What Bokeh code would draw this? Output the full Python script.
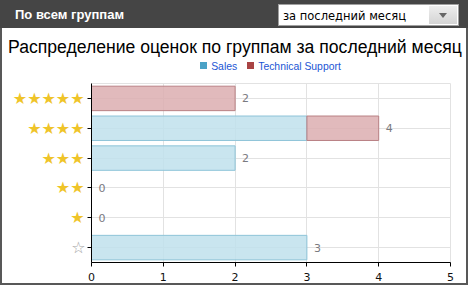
from bokeh.plotting import figure
from bokeh.layouts import column
from bokeh.models import (ColumnDataSource, Range1d, CDSView, BooleanFilter, FixedTicker,
                          Div, LinearAxis)
from bokeh.core.properties import value
from bokeh.embed import file_html
from bokeh.resources import INLINE

# ---- data ----
ratings = [0, 1, 2, 3, 4, 5]          # number of stars, bottom to top
star_labels = ["☆", "★", "★★", "★★★", "★★★★", "★★★★★"]
sales = [3, 0, 0, 2, 3, 0]
tech_support = [0, 0, 0, 0, 1, 2]
series_names = ["Sales", "Technical Support"]
series_colors = ["#4ba2c6", "#a94444"]
x_ticks = [0, 1, 2, 3, 4, 5]
header_text = "По всем группам"
period_text = "за последний месяц"
chart_title = "Распределение оценок по группам за последний месяц"

totals = [s + t for s, t in zip(sales, tech_support)]
src = ColumnDataSource(dict(
    rating=ratings,
    s_left=[0] * len(sales), s_right=sales,
    t_left=sales, t_right=totals,
    total=totals, total_label=[str(v) for v in totals],
))

legend_html = "".join(
    f'<span style="display:inline-block;width:7px;height:7px;background:{c};margin:0 4px 0 {0 if i == 0 else 10}px;vertical-align:1px"></span>'
    f'<span>{n}</span>'
    for i, (n, c) in enumerate(zip(series_names, series_colors)))

# ---- header bar, period selector, title and legend ----
header = Div(width=468, height=82, margin=0, text=f"""
<div style="position:relative;width:468px;height:82px;background:#585858;overflow:hidden">
 <div style="position:absolute;left:0;top:0;width:468px;height:28px;background:#454545"></div>
 <div style="position:absolute;left:15px;top:6px;font-family:'Liberation Sans';font-weight:bold;font-size:13px;color:#ffffff;white-space:nowrap">{header_text}</div>
 <div style="position:absolute;left:278px;top:4px;width:181px;height:22px;background:#ffffff;border:1px solid #a0a0a0;box-sizing:border-box">
  <div style="position:absolute;left:4px;top:3px;font-family:'DejaVu Sans';font-size:11.5px;color:#000;white-space:nowrap">{period_text}</div>
  <div style="position:absolute;right:1px;top:1px;width:28px;height:18px;background:linear-gradient(#eeeeee,#d4d4d4)">
   <div style="position:absolute;left:10px;top:7px;width:0;height:0;border-left:4px solid transparent;border-right:4px solid transparent;border-top:5px solid #666"></div>
  </div>
 </div>
 <div style="position:absolute;left:2px;top:28px;width:464px;height:54px;background:#ffffff"></div>
 <div style="position:absolute;left:8px;top:38px;font-family:'Liberation Sans';font-size:17.6px;line-height:18px;color:#000;white-space:nowrap">{chart_title}</div>
 <div style="position:absolute;left:91px;top:61px;width:359px;text-align:center;font-family:'Liberation Sans';font-size:10.4px;line-height:12px;color:#2255d4;white-space:nowrap">{legend_html}</div>
</div>""")

# ---- main chart ----
p = figure(width=464, height=201, output_backend="svg", toolbar_location=None,
           x_range=Range1d(0, 5), y_range=Range1d(-0.5, 5.5), margin=(0, 2, 2, 2),
           min_border_left=89, min_border_right=16, min_border_top=1, min_border_bottom=20)
p.title.visible = False
p.background_fill_color = "white"
p.border_fill_color = "white"
p.outline_line_color = "#e2e2e2"

blue_fill, blue_line = "#bfe0ec", "#8ec4d8"
red_fill, red_line = "#dcaeb0", "#b98084"

p.hbar(y="rating", left="s_left", right="s_right", height=0.82, source=src,
       view=CDSView(filter=BooleanFilter([v > 0 for v in sales])),
       fill_color=blue_fill, fill_alpha=0.85, line_color=blue_line, line_width=1)
p.hbar(y="rating", left="t_left", right="t_right", height=0.82, source=src,
       view=CDSView(filter=BooleanFilter([v > 0 for v in tech_support])),
       fill_color=red_fill, fill_alpha=0.85, line_color=red_line, line_width=1)

p.text(x="total", y="rating", text="total_label", source=src, x_offset=7,
       text_baseline="middle", text_font=value("DejaVu Sans"), text_font_size="11px",
       text_color="#7a7a80")

p.xaxis.ticker = FixedTicker(ticks=x_ticks)
p.xaxis.axis_line_color = "black"
p.xaxis.major_tick_line_color = "black"
p.xaxis.major_tick_out = 4
p.xaxis.major_tick_in = 0
p.xaxis.minor_tick_line_color = None
p.xaxis.major_label_text_font = "DejaVu Sans"
p.xaxis.major_label_text_font_size = "11px"
p.xaxis.major_label_text_color = "#111111"
p.xaxis.major_label_standoff = 6

# inner y axis: ticks + hollow star of the zero row
ya = p.yaxis[0]
ya.ticker = FixedTicker(ticks=ratings)
ya.axis_line_color = "black"
ya.major_tick_line_color = "black"
ya.major_tick_out = 4
ya.major_tick_in = 0
ya.minor_tick_line_color = None
ya.major_label_overrides = {r: (lab if r == 0 else "") for r, lab in zip(ratings, star_labels)}
ya.major_label_text_font = "DejaVu Sans"
ya.major_label_text_font_size = "16px"
ya.major_label_text_color = "#a6a6a6"
ya.major_label_standoff = 2

# outer y axis: golden stars, drawn in the same label column
yb = LinearAxis(ticker=FixedTicker(ticks=ratings), axis_line_color=None,
                major_tick_line_color=None, major_tick_out=0, major_tick_in=0,
                minor_tick_line_color=None, major_label_standoff=-16,
                major_label_overrides={r: (lab if r != 0 else "") for r, lab in zip(ratings, star_labels)},
                major_label_text_font="DejaVu Sans", major_label_text_font_size="16px",
                major_label_text_color="#efc428")
p.add_layout(yb, "left")

p.xgrid.grid_line_color = "#e2e2e2"
p.ygrid.grid_line_color = "#e2e2e2"

frame_bg = ("linear-gradient(to top, #585858 2px, transparent 2px), "
            "linear-gradient(to right, #585858 2px, #ffffff 2px, #ffffff 466px, #585858 466px)")
layout = column(header, p, spacing=0, styles={"background": frame_bg})
open("out.html", "w").write(file_html(layout, INLINE))
